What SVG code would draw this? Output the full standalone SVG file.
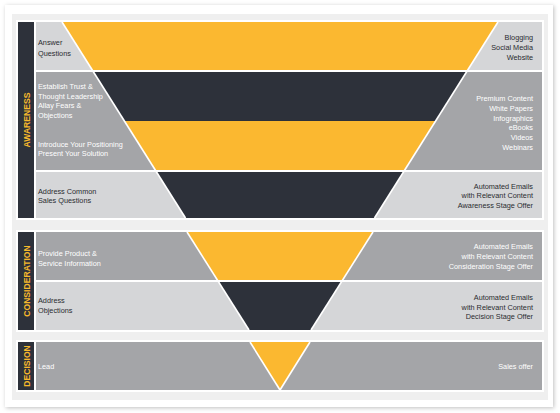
<svg xmlns="http://www.w3.org/2000/svg" width="560" height="413" viewBox="0 0 560 413">
<defs>
<filter id="sh" x="-5%" y="-5%" width="110%" height="110%">
<feDropShadow dx="1" dy="1" stdDeviation="2" flood-color="#000" flood-opacity="0.25"/>
</filter>
<style>
.lt{fill:#d5d6d8}
.md{fill:#a4a5a8}
.yl{fill:#fbb830}
.dk{fill:#2d313a}
.bar{fill:#2d313a}
.t{font-family:"Liberation Sans",Arial,sans-serif;font-size:7.3px}
.td{fill:#2a2c30}
.tw{fill:#ffffff}
.r{text-anchor:end}
.st{font-family:"Liberation Sans",Arial,sans-serif;font-size:8.6px;font-weight:bold;fill:#f7b92c;text-anchor:middle}
.edge{stroke:#ffffff;stroke-width:1.6;fill:none}
</style>
</defs>
<rect width="560" height="413" fill="#ffffff"/>
<rect x="5" y="5" width="548" height="402" fill="#ffffff" filter="url(#sh)"/>
<rect x="12" y="14" width="536" height="386" fill="#efefef"/>

<!-- section frames -->
<rect x="16" y="20" width="528" height="200" fill="#ffffff"/>
<rect x="16" y="230" width="528" height="102" fill="#ffffff"/>
<rect x="16" y="340" width="528" height="52" fill="#ffffff"/>

<g id="stage-awareness">
<rect class="bar" x="18" y="22" width="16" height="196"/>
<text class="st" transform="translate(29.5,120) rotate(-90)">AWARENESS</text>
</g>
<g id="stage-consideration">
<rect class="bar" x="18" y="232" width="16" height="98"/>
<text class="st" transform="translate(29.5,281) rotate(-90)">CONSIDERATION</text>
</g>
<g id="stage-decision">
<rect class="bar" x="18" y="342" width="16" height="48"/>
<text class="st" transform="translate(29.5,366) rotate(-90)">DECISION</text>
</g>

<g id="row-answer">
<rect class="lt" x="36" y="22" width="506" height="48"/>
<polygon class="yl" points="62,22 498,22 467.8,70 92.2,70"/>
<text class="t td" x="38" y="45">Answer</text>
<text class="t td" x="38" y="56">Questions</text>
<text class="t td r" x="533" y="39.5">Blogging</text>
<text class="t td r" x="533" y="49.5">Social Media</text>
<text class="t td r" x="533" y="59.5">Website</text>
</g>

<g id="row-trust-positioning">
<rect class="md" x="36" y="72" width="506" height="98"/>
<polygon class="dk" points="93.5,72 466.5,72 435.6,121 124.4,121"/>
<polygon class="yl" points="124.4,121 435.6,121 404.8,170 155.2,170"/>
<text class="t tw" x="38" y="89">Establish Trust &amp;</text>
<text class="t tw" x="38" y="98.6">Thought Leadership</text>
<text class="t tw" x="38" y="108.2">Allay Fears &amp;</text>
<text class="t tw" x="38" y="117.8">Objections</text>
<text class="t tw" x="38" y="147">Introduce Your Positioning</text>
<text class="t tw" x="38" y="156.4">Present Your Solution</text>
<text class="t tw r" x="533" y="101">Premium Content</text>
<text class="t tw r" x="533" y="110.8">White Papers</text>
<text class="t tw r" x="533" y="120.6">Infographics</text>
<text class="t tw r" x="533" y="130.4">eBooks</text>
<text class="t tw r" x="533" y="140.2">Videos</text>
<text class="t tw r" x="533" y="150">Webinars</text>
</g>

<g id="row-address-common">
<rect class="lt" x="36" y="172" width="506" height="46"/>
<polygon class="dk" points="156.5,172 403.5,172 374.5,218 185.5,218"/>
<text class="t td" x="38" y="193.5">Address Common</text>
<text class="t td" x="38" y="203">Sales Questions</text>
<text class="t td r" x="533" y="188.8">Automated Emails</text>
<text class="t td r" x="533" y="198.3">with Relevant Content</text>
<text class="t td r" x="533" y="208">Awareness Stage Offer</text>
</g>

<g id="row-provide-product">
<rect class="md" x="36" y="232" width="506" height="48"/>
<polygon class="yl" points="187,232 373,232 342.6,280 217.4,280"/>
<text class="t tw" x="38" y="256">Provide Product &amp;</text>
<text class="t tw" x="38" y="266">Service Information</text>
<text class="t tw r" x="533" y="248.8">Automated Emails</text>
<text class="t tw r" x="533" y="258.5">with Relevant Content</text>
<text class="t tw r" x="533" y="268.6">Consideration Stage Offer</text>
</g>

<g id="row-address-objections">
<rect class="lt" x="36" y="282" width="506" height="48"/>
<polygon class="dk" points="218.6,282 341.4,282 311,330 249,330"/>
<text class="t td" x="38" y="303">Address</text>
<text class="t td" x="38" y="312.7">Objections</text>
<text class="t td r" x="533" y="300">Automated Emails</text>
<text class="t td r" x="533" y="309.5">with Relevant Content</text>
<text class="t td r" x="533" y="319.4">Decision Stage Offer</text>
</g>

<g id="row-lead">
<rect class="md" x="36" y="342" width="506" height="48"/>
<polygon class="yl" points="250,342 310,342 280,390"/>
<text class="t tw" x="38" y="368.6">Lead</text>
<text class="t tw r" x="533" y="368.6">Sales offer</text>
</g>

<g id="connectors">
<line class="edge" x1="62" y1="22" x2="185.5" y2="218"/>
<line class="edge" x1="498" y1="22" x2="374.5" y2="218"/>
<line class="edge" x1="187" y1="232" x2="249" y2="330"/>
<line class="edge" x1="373" y1="232" x2="311" y2="330"/>
<line class="edge" x1="250" y1="342" x2="280" y2="390"/>
<line class="edge" x1="310" y1="342" x2="280" y2="390"/>
</g>
</svg>
